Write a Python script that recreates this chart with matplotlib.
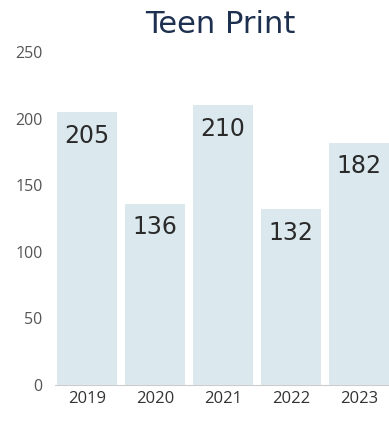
import matplotlib.pyplot as plt
import numpy as np

years = ['2019', '2020', '2021', '2022', '2023']
readers = [205, 136, 210, 132, 182]
yticks = [0, 50, 100, 150, 200, 250]

plt.rcParams['font.family'] = ['Open Sans', 'DejaVu Sans']

fig = plt.figure(figsize=(3.89, 4.22), dpi=100)
ax = fig.add_axes([0.1414, 0.0877, 0.8586, 0.7891])

x = np.arange(len(years))
bars = ax.bar(x, readers, width=0.88, color='#dbe9ee', zorder=2)

# value written just inside the top of each bar
for b, v in zip(bars, readers):
    ax.annotate(str(v), xy=(b.get_x() + b.get_width() / 2, v), xytext=(0, -17),
                textcoords='offset points', ha='center', va='center',
                fontsize=17, family='DejaVu Sans', color='#2a2a2a', zorder=3)

ax.set_xlim(-0.47, 4.44)
ax.set_ylim(0, 250)
ax.set_yticks(yticks)
ax.set_xticks(x)
ax.set_xticklabels(years)
ax.tick_params(axis='y', length=0, pad=9, labelsize=11.5, labelcolor='#555555')
ax.tick_params(axis='x', length=0, pad=4, labelsize=12, labelcolor='#333333')

for s in ['top', 'right', 'left']:
    ax.spines[s].set_visible(False)
ax.spines['bottom'].set_color('#cccccc')
ax.spines['bottom'].set_linewidth(0.8)
ax.spines['bottom'].set_zorder(1)

fig.text(0.566, 0.922, 'Teen Print', ha='center', va='baseline',
         fontsize=22, family='DejaVu Sans', color='#1e3050')

fig.savefig('out.png', dpi=100)
